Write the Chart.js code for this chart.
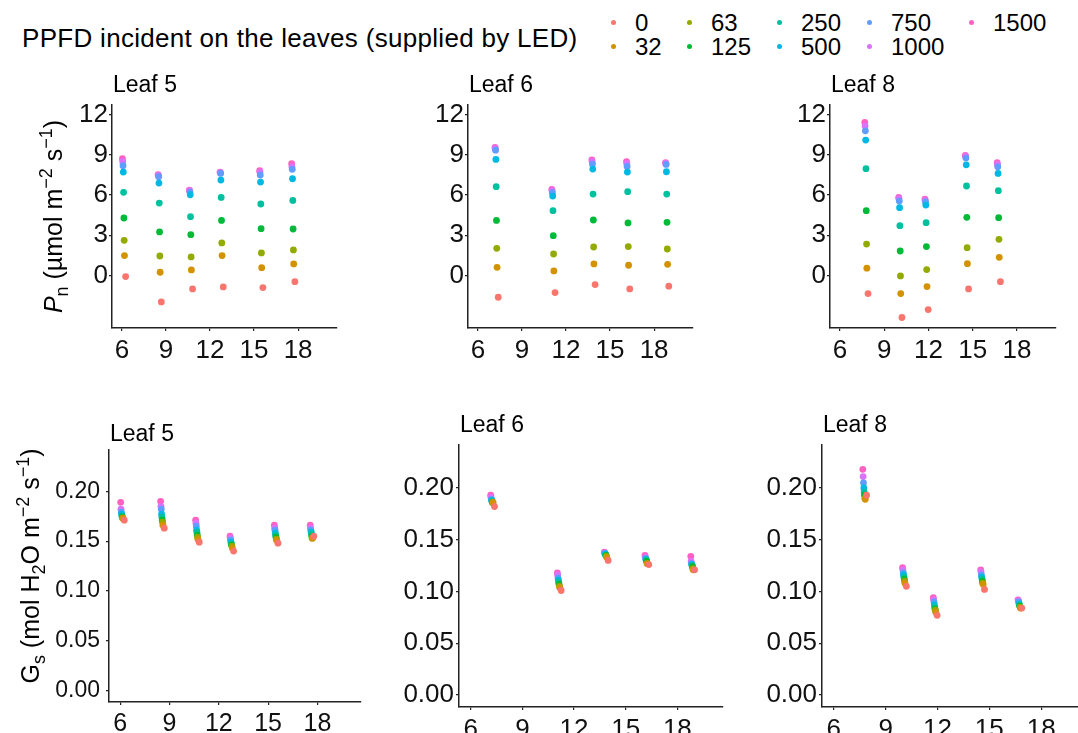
<!DOCTYPE html>
<html>
<head>
<meta charset="utf-8">
<script src="https://cdn.jsdelivr.net/npm/chart.js"></script>
<style>
  html, body { margin: 0; padding: 0; background: #fff; overflow: hidden; }
  body { width: 1078px; height: 733px; position: relative; font-family: "Liberation Sans", Arial, sans-serif; color: #000; }
  canvas { position: absolute; }
  .lg-title { position: absolute; left: 22px; top: 25px; font-size: 26px; line-height: 26px; letter-spacing: 0.3px; white-space: nowrap; }
  .lg-dot { position: absolute; width: 5px; height: 5px; border-radius: 50%; }
  .lg-lab { position: absolute; font-size: 24px; line-height: 24px; white-space: nowrap; }
</style>
</head>
<body>
<div class="lg-title">PPFD incident on the leaves (supplied by LED)</div>
<script>
// PPFD levels (µmol m-2 s-1) and ggplot hue colours
const ppfd = ['0', '32', '63', '125', '250', '500', '750', '1000', '1500'];
const ppfdColors = ['#F8766D', '#D39200', '#93AA00', '#00BA38', '#00C19F', '#00B9E3', '#619CFF', '#DB72FB', '#FF61C3'];
// time of each PPFD step relative to the 0 step (h), read from the dot offsets
const ppfdLag = [0, -0.08, -0.10, -0.12, -0.14, -0.16, -0.18, -0.20, -0.22];

const hourTicks = [6, 9, 12, 15, 18];
const pnTicks = [0, 3, 6, 9, 12];
const gsTicks = [0, 0.05, 0.10, 0.15, 0.20];

// measurement times (h) of the 0 step for each leaf
const timeLeaf5 = [6.25, 8.68, 10.81, 12.90, 15.60, 17.78];
const timeLeaf6 = [7.38, 11.25, 13.98, 16.34, 19.00];
const timeLeaf8 = [7.90, 10.20, 11.98, 14.72, 16.88];

// net photosynthesis, rows = ppfd levels
const pnLeaf5 = [
  [-0.07, -1.96, -0.99, -0.84, -0.89, -0.45],
  [1.49, 0.25, 0.42, 1.49, 0.59, 0.87],
  [2.63, 1.46, 1.39, 2.43, 1.69, 1.91],
  [4.29, 3.25, 3.05, 4.11, 3.49, 3.47],
  [6.20, 5.40, 4.39, 5.82, 5.33, 5.60],
  [7.71, 6.89, 6.02, 7.11, 6.96, 7.21],
  [8.18, 7.36, 6.22, 7.61, 7.48, 7.91],
  [8.48, 7.46, 6.32, 7.66, 7.71, 8.10],
  [8.70, 7.51, 6.37, 7.71, 7.81, 8.33]
];
const pnLeaf6 = [
  [-1.61, -1.26, -0.67, -0.99, -0.79],
  [0.62, 0.35, 0.87, 0.77, 0.84],
  [2.03, 1.61, 2.13, 2.16, 1.98],
  [4.11, 2.97, 4.14, 3.92, 3.97],
  [6.62, 4.83, 6.07, 6.25, 6.07],
  [8.65, 5.92, 7.93, 7.71, 7.73],
  [9.34, 6.17, 8.30, 8.13, 8.28],
  [9.47, 6.32, 8.48, 8.33, 8.35],
  [9.54, 6.42, 8.62, 8.48, 8.40]
];
const pnLeaf8 = [
  [-1.34, -3.12, -2.53, -0.99, -0.45],
  [0.55, -1.34, -0.82, 0.89, 1.36],
  [2.35, -0.02, 0.45, 2.08, 2.70],
  [4.83, 1.83, 2.16, 4.34, 4.31],
  [7.96, 3.72, 3.94, 6.67, 6.32],
  [10.09, 5.06, 5.25, 8.25, 7.61],
  [10.78, 5.55, 5.48, 8.75, 8.10],
  [11.13, 5.72, 5.60, 8.87, 8.28],
  [11.40, 5.82, 5.70, 8.95, 8.40]
];

// stomatal conductance, rows = ppfd levels
const gsLeaf5 = [
  [0.171, 0.163, 0.149, 0.140, 0.148, 0.155],
  [0.173, 0.166, 0.152, 0.143, 0.151, 0.153],
  [0.173, 0.169, 0.154, 0.145, 0.152, 0.153],
  [0.174, 0.171, 0.156, 0.146, 0.154, 0.155],
  [0.175, 0.174, 0.159, 0.147, 0.156, 0.157],
  [0.177, 0.177, 0.161, 0.149, 0.158, 0.159],
  [0.179, 0.182, 0.165, 0.151, 0.161, 0.161],
  [0.182, 0.185, 0.168, 0.153, 0.163, 0.163],
  [0.189, 0.190, 0.171, 0.155, 0.166, 0.166]
];
const gsLeaf6 = [
  [0.182, 0.101, 0.130, 0.126, 0.121],
  [0.186, 0.104, 0.133, 0.127, 0.121],
  [0.186, 0.105, 0.134, 0.127, 0.122],
  [0.186, 0.107, 0.135, 0.129, 0.124],
  [0.187, 0.109, 0.135, 0.130, 0.125],
  [0.188, 0.111, 0.136, 0.131, 0.126],
  [0.189, 0.113, 0.137, 0.132, 0.127],
  [0.191, 0.116, 0.137, 0.133, 0.129],
  [0.193, 0.118, 0.138, 0.135, 0.134]
];
const gsLeaf8 = [
  [0.193, 0.105, 0.077, 0.102, 0.084],
  [0.189, 0.108, 0.080, 0.107, 0.084],
  [0.190, 0.110, 0.082, 0.108, 0.085],
  [0.193, 0.112, 0.083, 0.110, 0.086],
  [0.196, 0.114, 0.085, 0.112, 0.087],
  [0.200, 0.116, 0.087, 0.114, 0.088],
  [0.205, 0.118, 0.090, 0.116, 0.090],
  [0.211, 0.121, 0.092, 0.119, 0.091],
  [0.218, 0.123, 0.094, 0.121, 0.092]
];

const FONT = '"Liberation Sans", Arial, sans-serif';
const PAD = { l: 112, t: 40, r: 12, b: 48 };

const pnTitle = [
  { t: 'P', it: true }, { t: 'n', sub: true }, { t: ' (µmol m' }, { t: '−2', sup: true },
  { t: ' s' }, { t: '−1', sup: true }, { t: ')' }
];
const gsTitle = [
  { t: 'G' }, { t: 's', sub: true }, { t: ' (mol H' }, { t: '2', sub: true }, { t: 'O m' },
  { t: '−2', sup: true }, { t: ' s' }, { t: '−1', sup: true }, { t: ')' }
];

// legend (ggplot fills by column, 2 rows)
const legCols = [613, 689, 779, 869, 971];
const legRows = [22.7, 46.7];
ppfd.forEach((p, i) => {
  const cx = legCols[Math.floor(i / 2)], cy = legRows[i % 2];
  const d = document.createElement('div');
  d.className = 'lg-dot';
  d.style.background = ppfdColors[i];
  d.style.left = (cx - 2.5) + 'px';
  d.style.top = (cy - 2.5) + 'px';
  document.body.appendChild(d);
  const l = document.createElement('div');
  l.className = 'lg-lab';
  l.textContent = p;
  l.style.left = (cx + 22) + 'px';
  l.style.top = (cy - 11.7) + 'px';
  document.body.appendChild(l);
});

// panel title + rich y-axis title
const panelText = {
  id: 'panelText',
  afterDraw(chart, args, o) {
    const { ctx, chartArea: a } = chart;
    ctx.save();
    ctx.fillStyle = '#000';
    ctx.textBaseline = 'alphabetic';
    ctx.textAlign = 'left';
    ctx.font = `23px ${FONT}`;
    ctx.fillText(o.title, a.left + 1, a.top - o.titleGap);
    if (o.yTitle) {
      const size = o.ySize;
      const fontOf = s => `${s.it ? 'italic ' : ''}${(s.sub || s.sup) ? Math.round(size * 0.72) : size}px ${FONT}`;
      let total = 0;
      for (const s of o.yTitle) { ctx.font = fontOf(s); total += ctx.measureText(s.t).width; }
      ctx.translate(a.left - o.yOffset, (a.top + a.bottom) / 2 + o.yShift);
      ctx.rotate(-Math.PI / 2);
      let px = -total / 2;
      for (const s of o.yTitle) {
        ctx.font = fontOf(s);
        const dy = s.sup ? -size * 0.42 : s.sub ? size * 0.22 : 0;
        ctx.fillText(s.t, px, dy);
        px += ctx.measureText(s.t).width;
      }
    }
    ctx.restore();
  }
};

function axisStyle() {
  return {
    border: { display: true, color: '#222', width: 1.5 },
    grid: { display: true, drawOnChartArea: false, drawTicks: true, tickLength: 3, color: '#222', lineWidth: 1.2 },
  };
}

function makePanel(p) {
  const box = p.box;
  const c = document.createElement('canvas');
  const w = (box.r - box.l) + PAD.l + PAD.r;
  const h = (box.b - box.t) + PAD.t + PAD.b;
  c.width = w; c.height = h;
  c.style.width = w + 'px'; c.style.height = h + 'px';
  c.style.left = (box.l - PAD.l) + 'px';
  c.style.top = (box.t - PAD.t) + 'px';
  document.body.appendChild(c);

  const datasets = ppfd.map((lab, s) => ({
    label: lab,
    data: p.times.map((t, i) => ({ x: t + ppfdLag[s], y: p.values[s][i] })),
    backgroundColor: ppfdColors[s],
    borderColor: ppfdColors[s],
    pointRadius: 3.4,
    pointHoverRadius: 3.4,
    pointBorderWidth: 0
  }));

  new Chart(c, {
    type: 'scatter',
    data: { datasets },
    options: {
      responsive: false,
      maintainAspectRatio: false,
      animation: false,
      events: [],
      layout: { padding: { top: PAD.t, right: PAD.r, left: 0, bottom: 0 } },
      plugins: {
        legend: { display: false },
        tooltip: { enabled: false },
        panelText: { title: p.title, titleGap: p.titleGap, yTitle: p.yTitle, ySize: p.ySize, yOffset: p.yOffset, yShift: p.yShift }
      },
      scales: {
        x: {
          type: 'linear', min: 5.32, max: 20.65,
          afterBuildTicks: sc => { sc.ticks = hourTicks.map(v => ({ value: v })); },
          afterFit: sc => { sc.height = PAD.b; },
          ...axisStyle(),
          ticks: { font: { family: FONT, size: p.xFont }, color: '#111', padding: 4, maxRotation: 0, autoSkip: false }
        },
        y: {
          type: 'linear', min: p.yMin, max: p.yMax,
          afterBuildTicks: sc => { sc.ticks = p.yTicks.map(v => ({ value: v })); },
          afterFit: sc => { sc.width = PAD.l; },
          ...axisStyle(),
          ticks: { font: { family: FONT, size: p.yFont }, color: '#111', padding: p.yPad, autoSkip: false, callback: p.fmt }
        }
      }
    },
    plugins: [panelText]
  });
}

const pnFmt = v => String(v);
const gsFmt = v => v.toFixed(2);
const pnBase = { yTicks: pnTicks, yMin: -3.9, yMax: 12.7, fmt: pnFmt, xFont: 26, yFont: 26, yPad: 1, titleGap: 13, yTitle: null };
const gsBase = { yTicks: gsTicks, yMin: -0.0115, yMax: 0.2415, fmt: gsFmt, xFont: 26, yFont: 26, yPad: 2, titleGap: 13, yTitle: null };

makePanel({ ...pnBase, box: { l: 112, t: 105, r: 337, b: 328 }, title: 'Leaf 5', times: timeLeaf5, values: pnLeaf5,
  yTitle: pnTitle, ySize: 25, yOffset: 50, yShift: 0 });
makePanel({ ...pnBase, box: { l: 468, t: 105, r: 693, b: 328 }, title: 'Leaf 6', times: timeLeaf6, values: pnLeaf6 });
makePanel({ ...pnBase, box: { l: 830, t: 105, r: 1056, b: 328 }, title: 'Leaf 8', times: timeLeaf8, values: pnLeaf8 });
makePanel({ ...gsBase, box: { l: 109, t: 450, r: 361, b: 702 }, title: 'Leaf 5', times: timeLeaf5, values: gsLeaf5,
  xFont: 25, yFont: 23, yPad: 6, titleGap: 9, yTitle: gsTitle, ySize: 25, yOffset: 70, yShift: -10 });
makePanel({ ...gsBase, box: { l: 459, t: 445, r: 723, b: 707 }, title: 'Leaf 6', times: timeLeaf6, values: gsLeaf6 });
makePanel({ ...gsBase, box: { l: 822, t: 445, r: 1087, b: 707 }, title: 'Leaf 8', times: timeLeaf8, values: gsLeaf8 });
</script>
</body>
</html>
